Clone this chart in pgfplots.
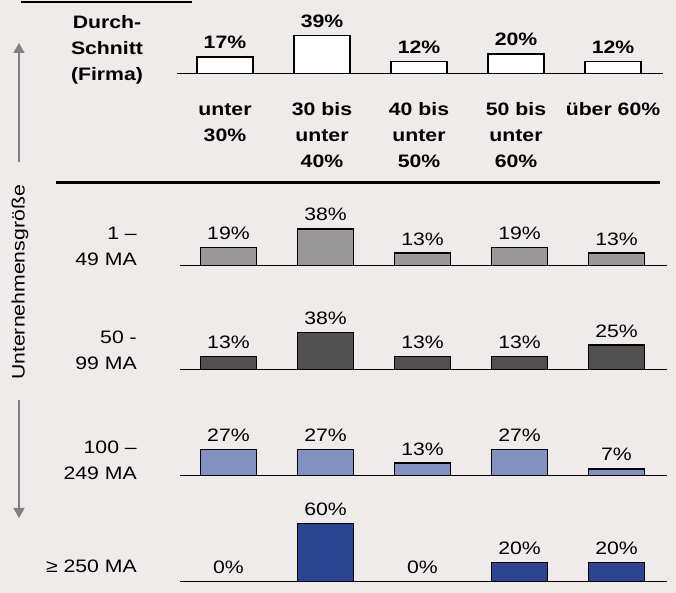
\documentclass[border=0pt]{standalone}
\usepackage{fontspec}
\setmainfont{Liberation Sans}[FakeStretch=1.18]
\usepackage{pgfplots}
\pgfplotsset{compat=1.18}
\usetikzlibrary{arrows.meta}
\definecolor{bg}{RGB}{238,235,234}
\definecolor{rowA}{RGB}{153,153,153}
\definecolor{rowB}{RGB}{80,80,80}
\definecolor{rowC}{RGB}{131,145,192}
\definecolor{rowD}{RGB}{43,69,146}
\definecolor{arr}{RGB}{128,128,128}
\newcommand{\fs}{\fontsize{18pt}{26pt}\selectfont}
\pgfplotsset{
  panel/.style={
    x=97pt, y=0.97pt, xmin=-0.5, xmax=4.52, ymin=0, ymax=65,
    anchor=south west, clip=false,
    axis x line*=bottom, axis y line=none,
    axis line style={-, line width=1.1pt, black},
    xtick=\empty, ytick=\empty,
    ybar, bar width=56pt,
    /pgf/number format/assume math mode=true,
    nodes near coords={\pgfmathprintnumber{\pgfplotspointmeta}\%},
    every node near coord/.append style={anchor=base, yshift=8pt, inner sep=0pt, font=\fs, text=black},
  },
}
\begin{document}
\begin{tikzpicture}[font=\fs]
\fill[bg] (0,0) rectangle (676pt,593pt);
\useasboundingbox (0,0) rectangle (676pt,593pt);
% decorations
\draw[black, line width=2pt] (20.5pt,590.7pt) -- (192pt,590.7pt);
\draw[black, line width=2.5pt] (56pt,410.3pt) -- (660pt,410.3pt);
\draw[arr, line width=1.6pt, -{Triangle[width=11pt,length=10pt]}] (19pt,431pt) -- (19pt,550pt);
\draw[arr, line width=1.6pt, -{Triangle[width=11pt,length=10pt]}] (19pt,193pt) -- (19pt,75pt);
\node[rotate=90, anchor=base, inner sep=0pt] at (24.5pt,310.5pt) {Unternehmensgröße};
% top-left labels
\node[anchor=base, inner sep=0pt, font=\bfseries\fs] at (107pt,564.7pt) {Durch-};
\node[anchor=base, inner sep=0pt, font=\bfseries\fs] at (107pt,538.7pt) {Schnitt};
\node[anchor=base, inner sep=0pt, font=\bfseries\fs] at (107pt,512.7pt) {(Firma)};
% row labels
\node[anchor=base east, inner sep=0pt] at (137pt,353.5pt) {1 –};
\node[anchor=base east, inner sep=0pt] at (137pt,327.5pt) {49 MA};
\node[anchor=base east, inner sep=0pt] at (137pt,249.5pt) {50 -};
\node[anchor=base east, inner sep=0pt] at (137pt,223.5pt) {99 MA};
\node[anchor=base east, inner sep=0pt] at (137pt,139.5pt) {100 –};
\node[anchor=base east, inner sep=0pt] at (137pt,113.5pt) {249 MA};
\node[anchor=base east, inner sep=0pt] at (137pt,20.3pt) {≥ 250 MA};
% top panel: average
\begin{axis}[panel, at={(176.5pt,519.7pt)},
  xtick={0,1,2,3,4},
  xticklabels={{\strut unter\\30\%},{\strut 30 bis\\unter\\40\%},{\strut 40 bis\\unter\\50\%},{\strut 50 bis\\unter\\60\%},{\strut über 60\%}},
  major tick length=0pt,
  xticklabel style={font=\bfseries\fs, align=center, anchor=north, inner sep=0pt, yshift=-23.5pt},
  every node near coord/.append style={font=\bfseries\fs}]
\addplot[draw=black, line width=1.5pt, fill=white] coordinates {(0,17) (1,39) (2,12) (3,20) (4,12)};
\end{axis}
% 1-49 MA
\begin{axis}[panel, at={(180pt,327.3pt)}]
\addplot[draw=black, line width=1.5pt, fill=rowA] coordinates {(0,19) (1,38) (2,13) (3,19) (4,13)};
\end{axis}
% 50-99 MA
\begin{axis}[panel, at={(180pt,223.7pt)}]
\addplot[draw=black, line width=1.5pt, fill=rowB] coordinates {(0,13) (1,38) (2,13) (3,13) (4,25)};
\end{axis}
% 100-249 MA
\begin{axis}[panel, at={(180pt,117.3pt)}]
\addplot[draw=black, line width=1.5pt, fill=rowC] coordinates {(0,27) (1,27) (2,13) (3,27) (4,7)};
\end{axis}
% >=250 MA
\begin{axis}[panel, at={(180pt,11.3pt)}]
\addplot[draw=black, line width=1.5pt, fill=rowD] coordinates {(0,0) (1,60) (2,0) (3,20) (4,20)};
\end{axis}
\end{tikzpicture}
\end{document}
